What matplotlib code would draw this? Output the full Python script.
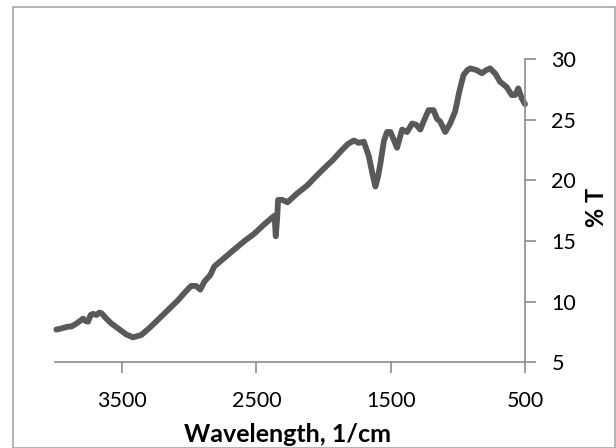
import numpy as np
import matplotlib.pyplot as plt

# spectrum (wavenumber, %T)
wavenumber = [3990, 3950, 3900, 3878, 3840, 3791, 3770, 3754, 3735, 3717, 3692, 3670, 3654,
              3617, 3580, 3531, 3470, 3420, 3358, 3300, 3234, 3160, 3086, 3030, 2987, 2950,
              2918, 2888, 2844, 2814, 2740, 2666, 2590, 2517, 2450, 2388, 2365, 2356, 2345,
              2339, 2306, 2269, 2200, 2121, 2060, 1997, 1930, 1873, 1820, 1775, 1738, 1700,
              1663, 1635, 1614, 1595, 1577, 1550, 1527, 1502, 1475, 1453, 1415, 1378, 1341,
              1310, 1280, 1250, 1218, 1181, 1156, 1131, 1094, 1057, 1020, 990, 958, 930, 908,
              859, 821, 790, 760, 720, 686, 636, 599, 574, 550, 525, 500]
transmittance = [7.7, 7.8, 7.95, 7.95, 8.2, 8.6, 8.4, 8.35, 8.9, 9.0, 8.9, 9.1, 9.05,
                 8.6, 8.2, 7.8, 7.3, 7.06, 7.25, 7.8, 8.5, 9.3, 10.1, 10.8, 11.3, 11.3,
                 11.0, 11.65, 12.2, 12.9, 13.6, 14.3, 15.0, 15.6, 16.3, 16.9, 17.1, 15.4, 17.0,
                 18.4, 18.4, 18.2, 18.9, 19.6, 20.3, 21.0, 21.7, 22.4, 23.0, 23.3, 23.1, 23.2,
                 22.0, 20.5, 19.5, 20.3, 21.4, 23.3, 24.0, 24.0, 23.3, 22.7, 24.2, 24.0, 24.7,
                 24.6, 24.2, 25.0, 25.8, 25.8, 25.1, 24.85, 24.0, 24.7, 25.7, 27.3, 28.7, 29.1, 29.25,
                 29.1, 28.85, 29.1, 29.25, 28.8, 28.15, 27.7, 27.05, 27.05, 27.6, 26.8, 26.3]

xticks = [3500, 2500, 1500, 500]
yticks = [5, 10, 15, 20, 25, 30]

plt.rcParams['font.family'] = ['Lato', 'DejaVu Sans']

fig = plt.figure(figsize=(6.16, 4.48), dpi=100)
ax = fig.add_axes([55 / 616, 1 - 362.3 / 448, 470 / 616, 303 / 448])

ax.plot(wavenumber, transmittance, color='#595959', lw=4.2,
        solid_joinstyle='round', solid_capstyle='round', clip_on=False)

ax.set_xlim(4000, 500)
ax.set_ylim(5, 30)
ax.set_xticks(xticks)
ax.set_yticks(yticks)

for side in ['top', 'left']:
    ax.spines[side].set_visible(False)
for side in ['bottom', 'right']:
    ax.spines[side].set_color('#8c8c8c')
    ax.spines[side].set_linewidth(1.2)

ax.yaxis.tick_right()
ax.yaxis.set_label_position('right')
ax.tick_params(axis='both', direction='out', length=8, width=1.2, color='#8c8c8c',
               labelsize=15.5, labelcolor='black')
ax.tick_params(axis='x', pad=13)
ax.tick_params(axis='y', pad=11)

ax.set_xlabel('Wavelength, 1/cm', fontsize=18, fontweight='bold')
ax.set_ylabel('% T', fontsize=17, fontweight='bold', rotation=90)
ax.xaxis.set_label_coords(0.495, -0.2)
ax.yaxis.set_label_coords((585 - 55) / 470, 0.51)

# chart border
fig.patches.append(plt.Rectangle((13 / 616, 0), 602 / 616, 1 - 7 / 448, transform=fig.transFigure,
                                 fill=False, edgecolor='#a6a6a6', lw=1.2))

fig.savefig('out.png', dpi=100)
